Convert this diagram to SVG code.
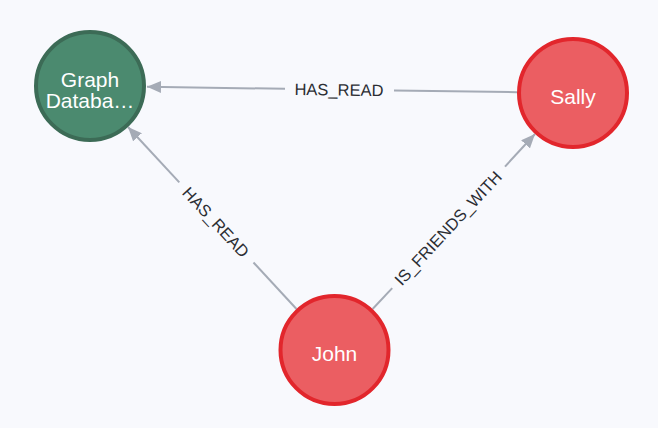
<svg xmlns="http://www.w3.org/2000/svg" width="658" height="428" viewBox="0 0 658 428">
<style>
.bg{fill:#f8f9fd}
.edge{stroke:#a5abb6;stroke-width:2;fill:none}
.elabel{font-family:"Liberation Sans",Arial,sans-serif;font-size:16.5px;fill:#2b2d33;text-anchor:middle;dominant-baseline:central}
.nlabel{font-family:"Liberation Sans",Arial,sans-serif;font-size:21px;fill:#ffffff;text-anchor:middle}
.red{fill:#eb5e62;stroke:#e2262c;stroke-width:4}
.green{fill:#4b8a6f;stroke:#3c6b56;stroke-width:4}
</style>
<defs>
<marker id="arrow" viewBox="0 0 14 12" refX="14" refY="6" markerWidth="14" markerHeight="12" markerUnits="userSpaceOnUse" orient="auto">
<path d="M0,0 L14,6 L0,12 z" fill="#a5abb6"/>
</marker>
</defs>
<rect class="bg" x="0" y="0" width="658" height="428"/>
<g id="connectors">
<g id="e-sally-graph">
<line class="edge" x1="517" y1="92.2" x2="394" y2="90.4"/>
<line class="edge" x1="285" y1="88.8" x2="147" y2="86.8" marker-end="url(#arrow)"/>
<text class="elabel" x="339" y="89.5" transform="rotate(0.8 339 89.5)">HAS_READ</text>
</g>
<g id="e-john-graph">
<line class="edge" x1="296.5" y1="309" x2="253.5" y2="262.5"/>
<line class="edge" x1="179.3" y1="182.4" x2="128" y2="127" marker-end="url(#arrow)"/>
<text class="elabel" x="216" y="222" transform="rotate(47.2 216 222)">HAS_READ</text>
</g>
<g id="e-john-sally">
<line class="edge" x1="372.6" y1="309" x2="392.2" y2="288.1"/>
<line class="edge" x1="505" y1="166.6" x2="535" y2="134" marker-end="url(#arrow)"/>
<text class="elabel" x="448" y="228" transform="rotate(-47.1 448 228)">IS_FRIENDS_WITH</text>
</g>
</g>
<g id="node-graph">
<circle class="green" cx="90" cy="86" r="54"/>
<text class="nlabel" x="90" y="86.5">Graph</text>
<text class="nlabel" x="90" y="107.5">Databa…</text>
</g>
<g id="node-sally">
<circle class="red" cx="573" cy="93" r="54"/>
<text class="nlabel" x="573" y="104">Sally</text>
</g>
<g id="node-john">
<circle class="red" cx="334.5" cy="350" r="54"/>
<text class="nlabel" x="334.5" y="361">John</text>
</g>
</svg>
